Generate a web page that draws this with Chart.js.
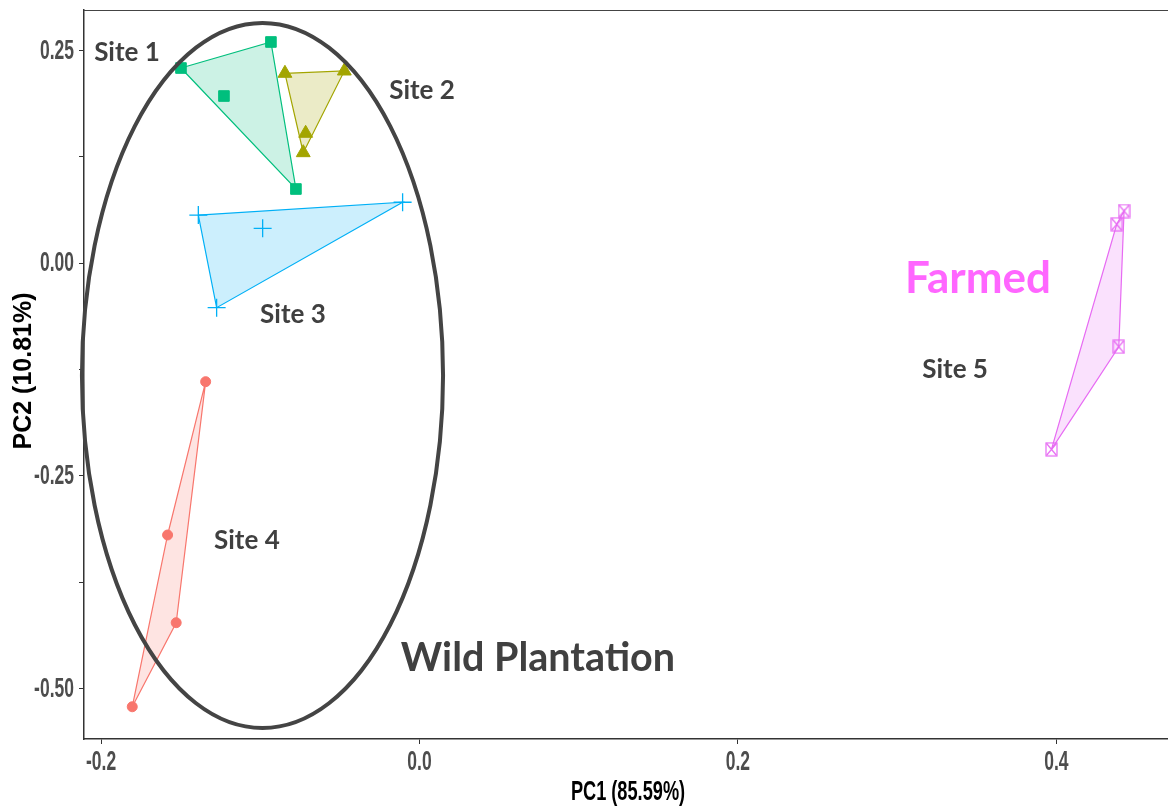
<!DOCTYPE html>
<html>
<head>
<meta charset="utf-8">
<script src="https://cdn.jsdelivr.net/npm/chart.js@4"></script>
<style>
  html, body { margin: 0; padding: 0; background: #ffffff; }
  #wrap { width: 1168px; height: 811px; }
</style>
</head>
<body>
<div id="wrap"><canvas id="pca" width="1168" height="811"></canvas></div>
<script>
// PCA scores per sampling site (PC1, PC2)
const siteNames = ['Site 1', 'Site 2', 'Site 3', 'Site 4', 'Site 5'];
const site1PC1 = [-0.1498, -0.0933, -0.1228, -0.0776];
const site1PC2 = [0.2292, 0.2598, 0.1963, 0.0870];
const site2PC1 = [-0.0845, -0.0472, -0.0715, -0.0730];
const site2PC2 = [0.2230, 0.2257, 0.1525, 0.1297];
const site3PC1 = [-0.1389, -0.0985, -0.0106, -0.1274];
const site3PC2 = [0.0564, 0.0408, 0.0714, -0.0525];
const site4PC1 = [-0.1343, -0.1582, -0.1528, -0.1804];
const site4PC2 = [-0.1395, -0.3197, -0.4228, -0.5216];
const site5PC1 = [0.4425, 0.4379, 0.4392, 0.3969];
const site5PC2 = [0.0611, 0.0455, -0.0984, -0.2190];

const xTickValues = [-0.2, 0.0, 0.2, 0.4];
const yTickValues = [-0.5, -0.375, -0.25, -0.125, 0, 0.125, 0.25];
const yLabelledTicks = [-0.5, -0.25, 0, 0.25];

const xAxisTitle = 'PC1 (85.59%)';
const yAxisTitle = 'PC2 (10.81%)';

const groupTitles = ['Wild Plantation', 'Farmed'];

const siteColors = ['#00BF7D', '#A3A500', '#00B0F6', '#F8766D', '#E76BF3'];
const siteFills = ['rgba(0,191,125,0.2)', 'rgba(163,165,0,0.22)', 'rgba(0,176,246,0.2)',
                   'rgba(248,118,109,0.2)', 'rgba(231,107,243,0.2)'];

const pc1 = [site1PC1, site2PC1, site3PC1, site4PC1, site5PC1];
const pc2 = [site1PC2, site2PC2, site3PC2, site4PC2, site5PC2];

function toPoints(xs, ys) { return xs.map((x, i) => ({ x: x, y: ys[i] })); }

// Convex hull (monotone chain), closed back to its first vertex
function hull(pts) {
  const p = pts.slice().sort((a, b) => a.x - b.x || a.y - b.y);
  const cross = (o, a, b) => (a.x - o.x) * (b.y - o.y) - (a.y - o.y) * (b.x - o.x);
  const lower = [], upper = [];
  for (const q of p) {
    while (lower.length >= 2 && cross(lower[lower.length - 2], lower[lower.length - 1], q) <= 0) lower.pop();
    lower.push(q);
  }
  for (let i = p.length - 1; i >= 0; i--) {
    const q = p[i];
    while (upper.length >= 2 && cross(upper[upper.length - 2], upper[upper.length - 1], q) <= 0) upper.pop();
    upper.push(q);
  }
  upper.pop(); lower.pop();
  const h = lower.concat(upper);
  h.push(h[0]);
  return h;
}

// Boxed-X marker used for the farmed site
function boxedX(color) {
  const c = document.createElement('canvas');
  c.width = 13; c.height = 15;
  const g = c.getContext('2d');
  g.strokeStyle = color; g.lineWidth = 1.2;
  g.strokeRect(1, 1, 11, 13);
  g.beginPath();
  g.moveTo(1.5, 1.5); g.lineTo(11.5, 13.5);
  g.moveTo(11.5, 1.5); g.lineTo(1.5, 13.5);
  g.stroke();
  return c;
}

const markerStyles = ['rect', 'triangle', 'cross', 'circle', boxedX(siteColors[4])];
const markerRadius = [7.5, 8, 9, 5, 7];

const datasets = [];
siteNames.forEach((name, i) => {
  const pts = toPoints(pc1[i], pc2[i]);
  datasets.push({
    label: name + ' hull',
    data: hull(pts),
    showLine: true,
    fill: 'shape',
    backgroundColor: siteFills[i],
    borderColor: siteColors[i],
    borderWidth: 1.2,
    pointRadius: 0,
    tension: 0,
    order: 2
  });
  datasets.push({
    label: name,
    data: pts,
    showLine: false,
    pointStyle: markerStyles[i],
    pointRadius: markerRadius[i],
    pointBorderWidth: i === 2 ? 1.3 : 1,
    backgroundColor: siteColors[i],
    borderColor: siteColors[i],
    order: 1
  });
});

// Text labels and the grouping ellipse, placed in data coordinates
const siteLabelAt = [[-0.1837, 0.2469], [0.0016, 0.2022], [-0.0795, -0.0611], [-0.1084, -0.3268], [0.3364, -0.1258]];
const groupLabelAt = [[0.0744, -0.4643], [0.3508, -0.0165]];
const wildEllipse = { cx: -0.0986, cy: -0.1322, rx: 0.1134, ry: 0.4144 };

const tickFont = 'bold 17.5px "Liberation Sans", Arial, sans-serif';
const tickStretch = 1.62;

// Draws a line of text stretched vertically around (x, y)
function tallText(ctx, text, x, y, align, stretch) {
  ctx.save();
  ctx.translate(x, y);
  ctx.scale(1, stretch);
  ctx.textAlign = align;
  ctx.textBaseline = 'middle';
  ctx.fillText(text, 0, 0);
  ctx.restore();
}

const axisText = {
  id: 'axisText',
  afterDraw(chart) {
    const { ctx, scales: { x, y }, chartArea } = chart;
    ctx.save();
    ctx.font = tickFont;
    ctx.fillStyle = '#4D4D4D';
    x.ticks.forEach(t => {
      tallText(ctx, t.value.toFixed(1), x.getPixelForValue(t.value), 762, 'center', tickStretch);
    });
    y.ticks.forEach(t => {
      if (yLabelledTicks.indexOf(t.value) < 0) return;
      tallText(ctx, t.value.toFixed(2), 74, y.getPixelForValue(t.value) + 0.5, 'right', tickStretch);
    });
    ctx.fillStyle = '#000000';
    ctx.font = 'bold 18.2px "Liberation Sans", Arial, sans-serif';
    tallText(ctx, xAxisTitle, (chartArea.left + chartArea.right) / 2 + 2, 792, 'center', 1.55);
    ctx.font = 'bold 25px "Liberation Sans", Arial, sans-serif';
    ctx.translate(24.5, 371);
    ctx.rotate(-Math.PI / 2);
    ctx.textAlign = 'center';
    ctx.textBaseline = 'middle';
    ctx.fillText(yAxisTitle, 0, 0);
    ctx.restore();
  }
};

const annotations = {
  id: 'annotations',
  afterDatasetsDraw(chart) {
    const { ctx, scales: { x, y }, chartArea } = chart;
    ctx.save();
    // top panel border
    ctx.strokeStyle = '#444444';
    ctx.lineWidth = 1.2;
    ctx.beginPath();
    ctx.moveTo(chartArea.left, chartArea.top + 0.5);
    ctx.lineTo(chartArea.right, chartArea.top + 0.5);
    ctx.stroke();

    // ellipse around the wild sites
    const cx = x.getPixelForValue(wildEllipse.cx);
    const cy = y.getPixelForValue(wildEllipse.cy);
    const rx = Math.abs(x.getPixelForValue(wildEllipse.cx + wildEllipse.rx) - cx);
    const ry = Math.abs(y.getPixelForValue(wildEllipse.cy + wildEllipse.ry) - cy);
    ctx.strokeStyle = '#444444';
    ctx.lineWidth = 4;
    ctx.beginPath();
    ctx.ellipse(cx, cy, rx, ry, 0, 0, Math.PI * 2);
    ctx.stroke();

    ctx.textAlign = 'center';
    ctx.textBaseline = 'middle';
    ctx.fillStyle = '#404040';
    ctx.font = 'bold 26px Lato, "Open Sans", sans-serif';
    siteNames.forEach((name, i) => {
      ctx.fillText(name, x.getPixelForValue(siteLabelAt[i][0]), y.getPixelForValue(siteLabelAt[i][1]));
    });
    ctx.font = 'bold 39.5px Lato, "Open Sans", sans-serif';
    ctx.fillStyle = '#404040';
    ctx.fillText(groupTitles[0], x.getPixelForValue(groupLabelAt[0][0]), y.getPixelForValue(groupLabelAt[0][1]));
    ctx.font = 'bold 44px Lato, "Open Sans", sans-serif';
    ctx.fillStyle = '#FF66FF';
    ctx.fillText(groupTitles[1], x.getPixelForValue(groupLabelAt[1][0]), y.getPixelForValue(groupLabelAt[1][1]) + 2);
    ctx.restore();
  }
};

new Chart(document.getElementById('pca'), {
  type: 'scatter',
  data: { datasets: datasets },
  options: {
    responsive: false,
    animation: false,
    layout: { autoPadding: false, padding: { top: 10, right: 0, left: 0, bottom: 0 } },
    plugins: { legend: { display: false }, tooltip: { enabled: false } },
    scales: {
      x: {
        type: 'linear',
        min: -0.2107,
        max: 0.4701,
        afterBuildTicks(scale) { scale.ticks = xTickValues.map(v => ({ value: v })); },
        afterFit(scale) {
          scale.height = 72;
          scale.paddingLeft = 0; scale.paddingRight = 0;
        },
        grid: { display: true, drawOnChartArea: false, drawTicks: true, tickLength: 5, color: '#333333', lineWidth: 1 },
        border: { display: true, color: '#333333', width: 1.5 },
        ticks: { color: 'rgba(0,0,0,0)', font: { size: 17 } },
        title: { display: false, text: xAxisTitle }
      },
      y: {
        type: 'linear',
        min: -0.5595,
        max: 0.2974,
        afterBuildTicks(scale) { scale.ticks = yTickValues.map(v => ({ value: v })); },
        afterFit(scale) {
          scale.width = 84;
          scale.paddingTop = 0; scale.paddingBottom = 0;
        },
        grid: { display: true, drawOnChartArea: false, drawTicks: true, tickLength: 5, color: '#333333', lineWidth: 1 },
        border: { display: true, color: '#333333', width: 1.5 },
        ticks: { color: 'rgba(0,0,0,0)', font: { size: 17 } },
        title: { display: false, text: yAxisTitle }
      }
    }
  },
  plugins: [annotations, axisText]
});
</script>
</body>
</html>
